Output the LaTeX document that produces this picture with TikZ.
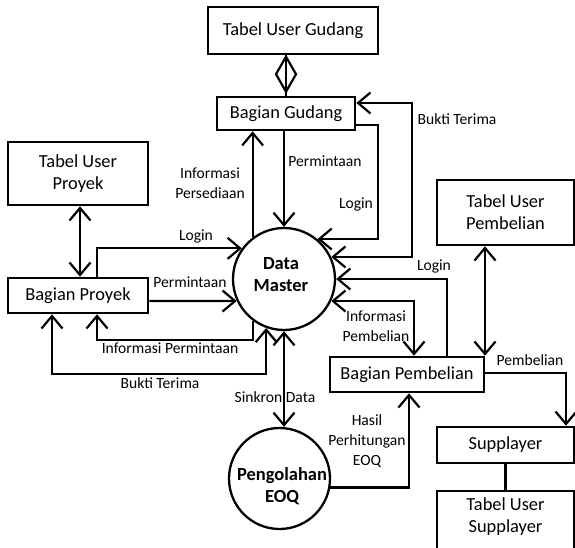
\documentclass[tikz,border=0pt]{standalone}
\usepackage{fontspec}
\setmainfont{Carlito}
\usetikzlibrary{arrows.meta,calc}
\begin{document}
\begin{tikzpicture}[x=1pt,y=-1pt,
  box/.style={draw, line width=2.6pt, align=center, inner sep=0pt,
    font=\fontsize{18.4}{22}\selectfont},
  boxtext/.style={align=center, inner sep=0pt, font=\fontsize{18.4}{22}\selectfont},
  proc/.style={draw, circle, line width=2.3pt, inner sep=0pt, align=center,
    font=\fontsize{18.5}{22}\selectfont\bfseries},
  wire/.style={line width=2.2pt},
  tip/.tip={Straight Barb[length=12.5pt,width=21pt]},
  flow/.style={wire, -tip},
  flow2/.style={wire, tip-tip},
  lbl/.style={font=\fontsize{15.6}{20}\selectfont, align=center, inner sep=0pt}
]
\fill[white] (0,0) rectangle (575,548);
\useasboundingbox (0,0) rectangle (575,548);
\clip (0,0) rectangle (575,548);

% entities and stores
\node[box, minimum width=170pt, minimum height=47pt] (tug) at (293,30.5) {Tabel User Gudang};
\node[box, minimum width=138pt, minimum height=33pt] (bg) at (286,113.5) {Bagian Gudang};
\node[box, minimum width=140pt, minimum height=63pt] (tup) at (78,173.5) {Tabel User\\Proyek};
\node[box, minimum width=140pt, minimum height=35pt] (bp) at (78,295.5) {Bagian Proyek};
\node[box, minimum width=137pt, minimum height=65pt] (tupb) at (505.5,212.5) {Tabel User\\Pembelian};
\node[box, minimum width=154pt, minimum height=35pt] (bpb) at (407,374.5) {Bagian Pembelian};
\node[box, minimum width=137pt, minimum height=36pt] (sup) at (505.5,445) {Supplayer};
\node[boxtext] (tus) at (505.5,517) {Tabel User\\Supplayer};
\coordinate (tustop) at (505.5,491);
\draw[line width=2.6pt] (437,560) |- (574,491) -- (574,560);

% processes
\node[proc, minimum size=102pt] (dm) at (284,279) {};
\node[proc, draw=none] (dmtext) at (281,275) {Data\\Master};
\node[proc, minimum size=101pt] (eoq) at (279.5,478.5) {};
\node[proc, draw=none] (eoqtext) at (282,486) {Pengolahan\\EOQ};

% flow labels
\node[lbl] (l1) at (210,183) {Informasi\\Persediaan};
\node[lbl] (l2) at (325,161) {Permintaan};
\node[lbl] (l3) at (356,204) {Login};
\node[lbl] (l4) at (457,119) {Bukti Terima};
\node[lbl] (l5) at (196,236) {Login};
\node[lbl] (l6) at (190,282) {Permintaan};
\node[lbl] (l7) at (170,348) {Informasi Permintaan};
\node[lbl] (l8) at (160,383) {Bukti Terima};
\node[lbl] (l9) at (434,266) {Login};
\node[lbl] (l10) at (376,326) {Informasi\\Pembelian};
\node[lbl] (l11) at (530,360) {Pembelian};
\node[lbl] (l12) at (275,397) {Sinkron Data};
\node[lbl] (l13) at (367,441) {Hasil\\Perhitungan\\EOQ};

% Gudang link to its user table
\draw[wire] (bg.north) -- (bg.north |- tug.south);
\draw[wire, line join=miter, fill=white] ($(bg.north)+(0,-4)$) -- ++(10,-17.5) -- ++(-10,-17.5) -- ++(-10,17.5) -- cycle;
\draw[wire] (bg.north) -- (bg.north |- tug.south);

% Gudang flows
\draw[flow] (dm.127.4) -- (dm.127.4 |- bg.south);
\draw[flow] (dm.north |- bg.south) -- (dm.north);
\draw[flow] ($(bg.east)+(0,11.5)$) -- ++(22,0) |- (dm.50);
\draw[flow2] ($(bg.east)+(0,-10.5)$) -- ++(56,0) |- (dm.25.5);

% Pembelian flows
\draw[flow] ($(bpb.north)+(40,0)$) |- (dm.east);
\draw[flow2] (dm.-25.5) -| ($(bpb.north)+(7,0)$);
\coordinate (pba) at ($(tupb.south)+(-20.5,0)$);
\draw[flow2] (pba) -- (pba |- bpb.north);
\draw[flow] ($(bpb.east)+(0,-1.5)$) -| ($(sup.north)+(60.5,0)$);
\draw[wire] (sup.south) -- (sup.south |- tustop);

% EOQ flows
\draw[flow] (eoq.-10.8) -| ($(bpb.south)+(2,0)$);
\draw[flow2] (dm.south) -- (dm.south |- eoq.north);

% Proyek flows
\draw[flow2] ($(tup.south)+(2,0)$) -- ($(bp.north)+(2,0)$);
\draw[flow] ($(bp.north)+(19,0)$) |- (dm.144);
\draw[flow] ($(bp.east)+(0,5.5)$) -- (dm.205.5);
\draw[flow] (dm.234) -- ++(0,19) -| ($(bp.south)+(19,0)$);
\draw[flow2] ($(bp.south)+(-26,0)$) |- ($(dm.250.5)+(0,46)$) -- (dm.250.5);
\end{tikzpicture}
\end{document}
